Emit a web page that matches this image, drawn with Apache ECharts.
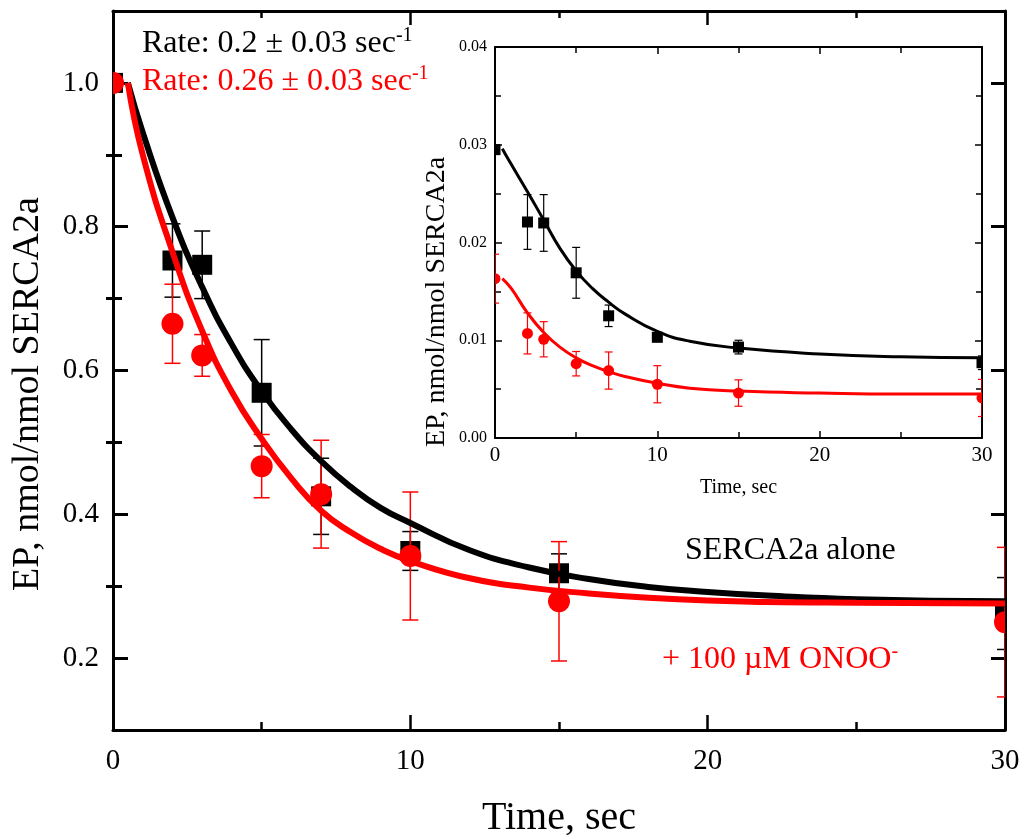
<!DOCTYPE html>
<html>
<head>
<meta charset="utf-8">
<script src="https://cdn.jsdelivr.net/npm/echarts@6/dist/echarts.min.js"></script>
<style>
html,body{margin:0;padding:0;background:#fff;}
#chart{width:1021px;height:837px;}
</style>
</head>
<body>
<div id="chart"></div>
<script>
// ---------- data ----------
const mainTime = [0, 2, 3, 5, 7, 10, 15, 30];
const mainBlack = [1.0, 0.753, 0.747, 0.569, 0.425, 0.349, 0.318, 0.262];
const mainBlackErr = [0, 0.051, 0.047, 0.074, 0.053, 0.027, 0.027, 0.05];
const mainRed = [1.0, 0.665, 0.621, 0.467, 0.428, 0.342, 0.279, 0.25];
const mainRedErr = [0, 0.055, 0.029, 0.044, 0.075, 0.089, 0.083, 0.104];

const mainFitTime = [0.5, 1, 2, 3, 4, 5, 6, 7, 8, 9, 10, 12, 14, 16, 18, 20, 22, 25, 30];
const mainFitBlack = [1.0, 0.931, 0.813, 0.716, 0.636, 0.571, 0.518, 0.474, 0.438, 0.409, 0.388, 0.35, 0.326, 0.31, 0.299, 0.292, 0.287, 0.282, 0.279];
const mainFitRed = [1.0, 0.90, 0.765, 0.655, 0.57, 0.505, 0.45, 0.405, 0.375, 0.352, 0.335, 0.311, 0.298, 0.29, 0.284, 0.280, 0.278, 0.277, 0.276];

const insetTime = [0, 2, 3, 5, 7, 10, 15, 30];
const insetBlack = [0.0295, 0.0221, 0.022, 0.0169, 0.0125, 0.0103, 0.0093, 0.0077];
const insetBlackErr = [0, 0.0028, 0.0029, 0.0026, 0.0011, 0, 0.0007, 0.0007];
const insetRed = [0.0163, 0.0107, 0.0101, 0.0076, 0.0069, 0.0055, 0.0046, 0.0041];
const insetRedErr = [0.0025, 0.0021, 0.0018, 0.00125, 0.0019, 0.0019, 0.00135, 0.0019];

const insetFitTime = [0.45, 1, 2, 3, 4, 5, 6, 7, 8, 10, 12, 15, 20, 25, 30];
const insetFitBlack = [0.0296, 0.0280, 0.0252, 0.0223, 0.0194, 0.0171, 0.0153, 0.0139, 0.0127, 0.0109, 0.0099, 0.0092, 0.0086, 0.0083, 0.0082];
const insetFitRed = [0.0163, 0.0153, 0.0128, 0.0108, 0.0093, 0.0082, 0.0074, 0.0068, 0.0063, 0.0056, 0.0051, 0.0048, 0.0046, 0.0045, 0.0045];

const mainYMajor = [0.2, 0.4, 0.6, 0.8, 1.0];
const mainYMinor = [0.3, 0.5, 0.7, 0.9];

const rateBlackText = 'Rate: 0.2 ± 0.03 sec';
const rateRedText = 'Rate: 0.26 ± 0.03 sec';
const labelBlack = 'SERCA2a alone';
const labelRed = '+ 100 µM ONOO';
const yTitle = 'EP, nmol/nmol SERCA2a';
const xTitle = 'Time, sec';

// ---------- chart ----------
const FONT = "'Liberation Serif', 'Times New Roman', serif";
const BLACK = '#000000';
const RED = '#ff0000';

function zip(a, b) { return a.map((v, i) => [v, b[i]]); }

function pointSeries(xi, yi, ts, ys, es, color, shape, size, capW, lw) {
  return {
    type: 'custom', xAxisIndex: xi, yAxisIndex: yi, clip: true,
    data: ts.map((t, i) => [t, ys[i], es[i]]),
    renderItem: function (params, api) {
      const x = api.value(0), y = api.value(1), e = api.value(2);
      const c = api.coord([x, y]);
      const children = [];
      if (e > 0) {
        const top = api.coord([x, y + e]);
        const bot = api.coord([x, y - e]);
        const st = { stroke: color, lineWidth: lw };
        children.push({ type: 'line', shape: { x1: c[0], y1: top[1], x2: c[0], y2: bot[1] }, style: st });
        children.push({ type: 'line', shape: { x1: c[0] - capW / 2, y1: top[1], x2: c[0] + capW / 2, y2: top[1] }, style: st });
        children.push({ type: 'line', shape: { x1: c[0] - capW / 2, y1: bot[1], x2: c[0] + capW / 2, y2: bot[1] }, style: st });
      }
      if (shape === 'square') {
        children.push({ type: 'rect', shape: { x: c[0] - size / 2, y: c[1] - size / 2, width: size, height: size }, style: { fill: color } });
      } else {
        children.push({ type: 'circle', shape: { cx: c[0], cy: c[1], r: size / 2 }, style: { fill: color } });
      }
      return { type: 'group', children: children };
    }
  };
}

function lineSeries(xi, yi, ts, ys, color, w) {
  return {
    type: 'line', xAxisIndex: xi, yAxisIndex: yi, data: zip(ts, ys),
    showSymbol: false, symbol: 'none', smooth: 0.5,
    lineStyle: { color: color, width: w }, clip: true, animation: false
  };
}

const axisLineMain = { show: true, onZero: false, lineStyle: { color: BLACK, width: 3 } };
const axisLineInset = { show: true, onZero: false, lineStyle: { color: BLACK, width: 2 } };

const option = {
  animation: false,
  backgroundColor: '#ffffff',
  grid: [
    { left: 113, right: 16, top: 11, bottom: 107, containLabel: false, outerBoundsMode: 'none' },
    { left: 495, right: 39, top: 47, bottom: 399, containLabel: false, outerBoundsMode: 'none',
      show: true, backgroundColor: '#ffffff', borderWidth: 0 }
  ],
  xAxis: [
    { gridIndex: 0, type: 'value', position: 'bottom', min: 0, max: 30, interval: 10,
      axisLine: axisLineMain,
      axisTick: { show: true, inside: true, length: 15, lineStyle: { color: BLACK, width: 2.5 } },
      minorTick: { show: true, splitNumber: 2, length: 8, lineStyle: { color: BLACK, width: 2.5 } },
      axisLabel: { show: true, fontSize: 29, fontFamily: FONT, color: BLACK, margin: 17 },
      splitLine: { show: false }, minorSplitLine: { show: false },
      name: xTitle, nameLocation: 'middle', nameGap: 68,
      nameTextStyle: { fontSize: 40, fontFamily: FONT, color: BLACK } },
    { gridIndex: 0, type: 'value', position: 'top', min: 0, max: 30, interval: 10,
      axisLine: axisLineMain,
      axisTick: { show: true, inside: true, length: 14, lineStyle: { color: BLACK, width: 2.5 } },
      minorTick: { show: true, splitNumber: 2, length: 7, lineStyle: { color: BLACK, width: 2.5 } },
      axisLabel: { show: false }, splitLine: { show: false } },
    { gridIndex: 1, type: 'value', position: 'bottom', min: 0, max: 30, interval: 10,
      axisLine: axisLineInset,
      axisTick: { show: true, inside: true, length: 7, lineStyle: { color: BLACK, width: 1.5 } },
      minorTick: { show: true, splitNumber: 2, length: 6, lineStyle: { color: BLACK, width: 1.5 } },
      axisLabel: { show: true, fontSize: 21, fontFamily: FONT, color: BLACK, margin: 7 },
      splitLine: { show: false },
      name: xTitle, nameLocation: 'middle', nameGap: 40,
      nameTextStyle: { fontSize: 20, fontFamily: FONT, color: BLACK } },
    { gridIndex: 1, type: 'value', position: 'top', min: 0, max: 30, interval: 10,
      axisLine: axisLineInset,
      axisTick: { show: true, inside: true, length: 7, lineStyle: { color: BLACK, width: 1.5 } },
      minorTick: { show: true, splitNumber: 2, length: 6, lineStyle: { color: BLACK, width: 1.5 } },
      axisLabel: { show: false }, splitLine: { show: false } }
  ],
  yAxis: [
    { gridIndex: 0, type: 'value', position: 'left', min: 0.1, max: 1.1, interval: 0.1,
      axisLine: axisLineMain,
      axisTick: { show: true, inside: true, length: 15, customValues: mainYMajor, lineStyle: { color: BLACK, width: 3 } },
      axisLabel: { show: true, customValues: mainYMajor, fontSize: 29, fontFamily: FONT, color: BLACK, margin: 14,
                   formatter: v => v.toFixed(1) },
      splitLine: { show: false } },
    { gridIndex: 0, type: 'value', position: 'left', min: 0.1, max: 1.1, interval: 0.1,
      axisLine: { show: false },
      axisTick: { show: true, inside: true, length: 9, customValues: mainYMinor, lineStyle: { color: BLACK, width: 3 } },
      axisLabel: { show: false }, splitLine: { show: false } },
    { gridIndex: 0, type: 'value', position: 'right', min: 0.1, max: 1.1, interval: 0.1,
      axisLine: axisLineMain,
      axisTick: { show: true, inside: true, length: 14, customValues: mainYMajor, lineStyle: { color: BLACK, width: 3 } },
      axisLabel: { show: false }, splitLine: { show: false } },
    { gridIndex: 0, type: 'value', position: 'right', min: 0.1, max: 1.1, interval: 0.1,
      axisLine: { show: false },
      axisTick: { show: true, inside: true, length: 7, customValues: mainYMinor, lineStyle: { color: BLACK, width: 3 } },
      axisLabel: { show: false }, splitLine: { show: false } },
    { gridIndex: 1, type: 'value', position: 'left', min: 0, max: 0.04, interval: 0.01,
      axisLine: axisLineInset,
      axisTick: { show: true, inside: true, length: 7, lineStyle: { color: BLACK, width: 1.5 } },
      minorTick: { show: true, splitNumber: 2, length: 6, lineStyle: { color: BLACK, width: 1.5 } },
      axisLabel: { show: true, fontSize: 16, fontFamily: FONT, color: BLACK, margin: 8, formatter: v => v.toFixed(2) },
      splitLine: { show: false } },
    { gridIndex: 1, type: 'value', position: 'right', min: 0, max: 0.04, interval: 0.01,
      axisLine: axisLineInset,
      axisTick: { show: true, inside: true, length: 7, lineStyle: { color: BLACK, width: 1.5 } },
      minorTick: { show: true, splitNumber: 2, length: 6, lineStyle: { color: BLACK, width: 1.5 } },
      axisLabel: { show: false }, splitLine: { show: false } }
  ],
  series: [
    pointSeries(0, 0, mainTime, mainBlack, mainBlackErr, BLACK, 'square', 20, 16, 1.5),
    pointSeries(0, 0, mainTime, mainRed, mainRedErr, RED, 'circle', 22, 16, 1.5),
    lineSeries(0, 0, mainFitTime, mainFitBlack, BLACK, 6),
    lineSeries(0, 0, mainFitTime, mainFitRed, RED, 6),
    pointSeries(2, 4, insetTime, insetBlack, insetBlackErr, BLACK, 'square', 11, 8, 1.2),
    pointSeries(2, 4, insetTime, insetRed, insetRedErr, RED, 'circle', 11, 8, 1.2),
    lineSeries(2, 4, insetFitTime, insetFitBlack, BLACK, 3),
    lineSeries(2, 4, insetFitTime, insetFitRed, RED, 3)
  ],
  graphic: [
    { type: 'text', left: 142, top: 26, z: 100,
      style: { text: '{a|' + rateBlackText + '}{s|-1}', fill: BLACK,
        rich: { a: { fontSize: 32, fontFamily: FONT, fill: BLACK, lineHeight: 36 },
                s: { fontSize: 20, fontFamily: FONT, fill: BLACK, lineHeight: 14, verticalAlign: 'top' } } } },
    { type: 'text', left: 142, top: 64, z: 100,
      style: { text: '{a|' + rateRedText + '}{s|-1}', fill: RED,
        rich: { a: { fontSize: 32, fontFamily: FONT, fill: RED, lineHeight: 36 },
                s: { fontSize: 20, fontFamily: FONT, fill: RED, lineHeight: 14, verticalAlign: 'top' } } } },
    { type: 'text', left: 685, top: 535, z: 100,
      style: { text: labelBlack, fontSize: 32, fontFamily: FONT, fill: BLACK } },
    { type: 'text', left: 662, top: 642, z: 100,
      style: { text: '{a|' + labelRed + '}{s|-}', fill: RED,
        rich: { a: { fontSize: 32, fontFamily: FONT, fill: RED, lineHeight: 36 },
                s: { fontSize: 20, fontFamily: FONT, fill: RED, lineHeight: 14, verticalAlign: 'top' } } } },
    { type: 'text', x: 28, y: 394, rotation: Math.PI / 2, z: 100,
      style: { text: yTitle, fontSize: 38, fontFamily: FONT, fill: BLACK, align: 'center', verticalAlign: 'middle' } },
    { type: 'text', x: 437, y: 302, rotation: Math.PI / 2, z: 100,
      style: { text: yTitle, fontSize: 28, fontFamily: FONT, fill: BLACK, align: 'center', verticalAlign: 'middle' } }
  ]
};

const chart = echarts.init(document.getElementById('chart'), null, { renderer: 'canvas' });
chart.setOption(option);
</script>
</body>
</html>
